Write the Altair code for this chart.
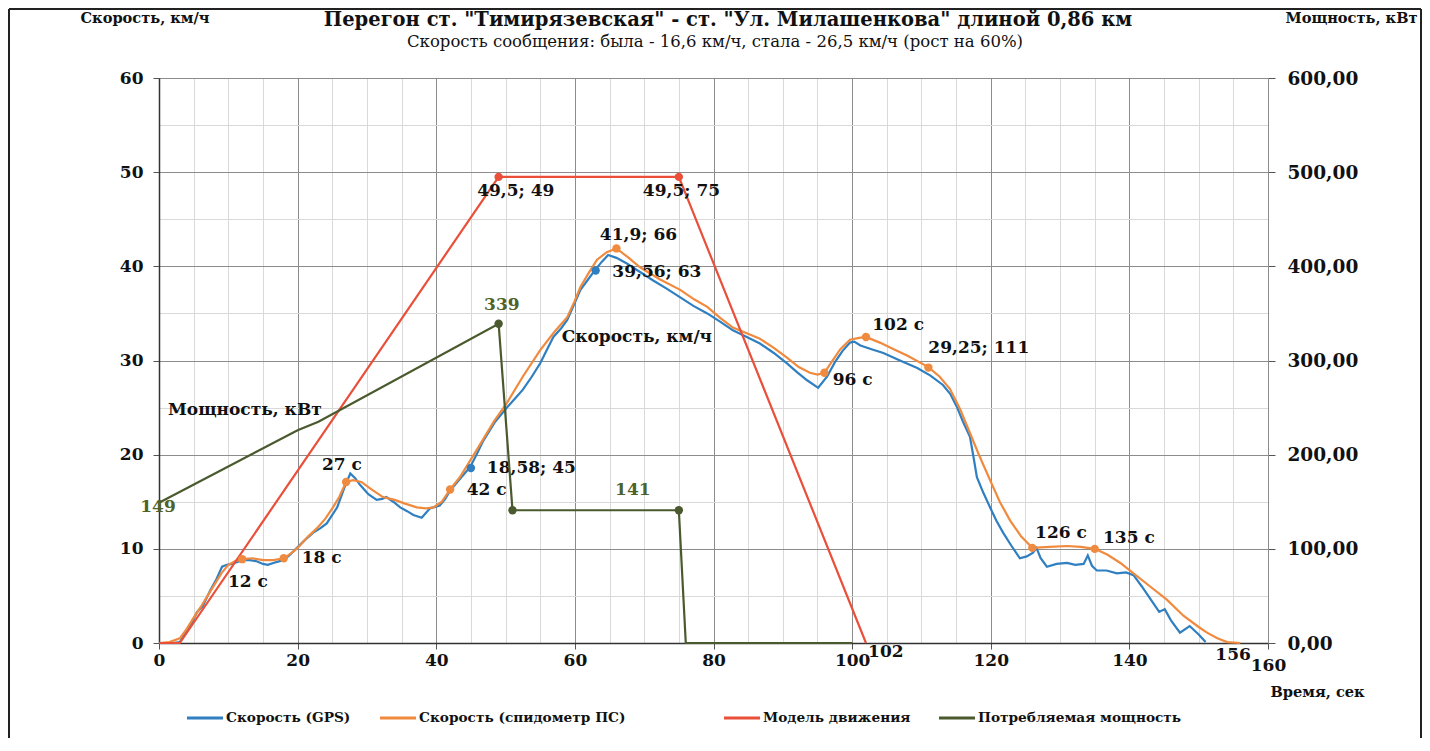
import altair as alt
import pandas as pd

FONT = "DejaVu Serif"
BLUE = "#2f7fc1"
ORANGE = "#f08a3e"
RED = "#ea4f3a"
GREEN = "#4b5a2e"
GREEN_TXT = "#4f6228"
INK = "#111111"

# ---- data ----
gps_t = [0, 1, 2, 3, 4, 4.9, 5.5, 6.3, 7.4, 8.3, 9.1, 9.8, 10.5, 11.3, 12, 13.1, 14, 15, 15.7, 16.5,
         17.9, 18.8, 19.9, 21, 22.2, 23.3, 24.2, 25, 25.7, 26.3, 26.8, 27.6, 28.3, 29, 30.2, 31.4, 32.2,
         32.8, 33.8, 34.8, 35.8, 36.7, 37.9, 38.5, 39.1, 40.5, 41.3, 42, 43.5, 44.9, 45.8, 46.8, 48.5,
         50.2, 51.4, 52.5, 53.8, 55, 56, 56.9, 58, 58.9, 59.8, 60.8, 61.9, 62.9, 63.9, 64.8, 66, 67.5,
         69.4, 71.3, 73.3, 75.2, 77.1, 79.1, 81, 82.8, 84.8, 86.7, 88.7, 90.6, 92, 93.5, 95.1, 96.4,
         97.5, 98.6, 99.7, 100.3, 101.2, 102.8, 104.5, 106.9, 109.4, 111.3, 113.1, 114.2, 115.1, 116,
         117, 117.5, 118, 118.9, 119.9, 120.8, 121.8, 123, 124.2, 125.2, 126.1, 126.6, 127.2, 128.1,
         129.5, 131, 132.2, 133.4, 134, 134.6, 135.3, 136.7, 138.2, 139.5, 140.6, 141.8, 143, 144.3,
         145.1, 146, 147.3, 148.7, 150, 151]
gps_v = [0, 0, 0, 0.1, 1.2, 2.4, 3.3, 3.9, 5.6, 6.8, 8.1, 8.3, 8.4, 8.6, 8.8, 8.8, 8.7, 8.4, 8.3, 8.5,
         8.8, 9.3, 10.1, 10.9, 11.7, 12.2, 12.7, 13.6, 14.4, 15.6, 16.6, 18.0, 17.5, 16.8, 15.8, 15.2, 15.3,
         15.5, 15.0, 14.4, 14.0, 13.6, 13.3, 13.8, 14.3, 14.6, 15.3, 16.2, 17.5, 18.7, 20.0, 21.5, 23.5,
         25.0, 26.0, 26.9, 28.3, 29.7, 31.2, 32.5, 33.4, 34.3, 35.8, 37.5, 38.6, 39.6, 40.5, 41.2, 40.9, 40.3,
         39.4, 38.5, 37.6, 36.7, 35.8, 35.0, 34.1, 33.2, 32.5, 31.8, 30.8, 29.7, 28.8, 27.9, 27.1, 28.3,
         29.8, 31.0, 31.9, 32.0, 31.6, 31.2, 30.8, 30.0, 29.2, 28.4, 27.4, 26.4, 25.1, 23.5,
         21.9, 19.8, 17.6, 16.0, 14.4, 13.0, 11.7, 10.3, 9.0, 9.2, 9.6, 10.1, 9.0, 8.1,
         8.4, 8.5, 8.3, 8.4, 9.3, 8.2, 7.7, 7.7, 7.4, 7.5, 7.2, 6.0, 4.7, 3.3,
         3.6, 2.4, 1.1, 1.8, 0.9, 0.1]

spd_t = [0, 1.5, 3, 4, 5, 6, 7, 8, 9, 10, 11, 12, 13.5, 15, 16.5, 18, 19, 20, 21.5, 22.8, 24, 25.1, 26,
         27, 28, 29.2, 30.5, 32.3, 34, 35.5, 37.2, 38.5, 39.6, 40.8, 42, 43.4, 45, 46.5, 48.3, 50.2, 52.5,
         55, 57, 58.9, 59.9, 60.8, 62, 63.2, 64.6, 66, 67.6, 69.4, 72.3, 75.2, 77.2, 79.1, 81, 82.8, 84.8,
         86.7, 88.6, 90.6, 92.3, 93.9, 95, 96, 97, 98.3, 99.7, 101, 102, 104, 106, 108, 111, 112.6, 114.1,
         115.6, 117, 118.4, 119.9, 121.3, 122.8, 124.4, 126, 128.5, 131, 133, 135, 136.8, 138.7, 140.6,
         143, 145.4, 147.8, 150, 151.2, 152.7, 154.1, 156]
spd_v = [0, 0.1, 0.5, 1.5, 2.7, 3.8, 5.0, 6.2, 7.4, 8.3, 8.7, 8.9, 9.0, 8.8, 8.8, 9.0, 9.5, 10.1, 11.3, 12.2,
         13.2, 14.4, 15.5, 17.1, 17.3, 17.1, 16.4, 15.5, 15.2, 14.8, 14.4, 14.3, 14.4, 15.0, 16.3, 17.6, 19.5,
         21.3, 23.5, 25.5, 28.3, 31.1, 33.0, 34.6, 36.2, 37.8, 39.3, 40.7, 41.5, 41.9, 41.0, 39.9, 38.6, 37.5,
         36.5, 35.7, 34.5, 33.5, 32.9, 32.3, 31.4, 30.3, 29.3, 28.7, 28.5, 28.7, 29.8, 31.2, 32.2, 32.4, 32.5,
         31.9, 31.2, 30.5, 29.3, 28.3, 27.0, 24.8, 22.3, 19.8, 17.3, 15.0, 13.0, 11.3, 10.1, 10.2, 10.3, 10.2,
         10.0, 9.4, 8.5, 7.4, 6.0, 4.6, 2.9, 1.7, 1.1, 0.5, 0.1, 0]

model_t = [0, 3, 49, 75, 102]
model_v = [0, 0, 49.5, 49.5, 0]

power_t = [0, 20, 23, 49, 51, 75, 76, 100]
power_v = [149, 226, 235, 339, 141, 141, 0, 0]

spd_mark_t = [12, 18, 27, 42, 66, 96, 102, 111, 126, 135]
spd_mark_v = [8.9, 9.0, 17.1, 16.3, 41.9, 28.7, 32.5, 29.25, 10.1, 10.0]
gps_mark_t = [45, 63]
gps_mark_v = [18.58, 39.56]
model_mark_t = [49, 75]
model_mark_v = [49.5, 49.5]
power_mark_t = [49, 51, 75]
power_mark_v = [339, 141, 141]

speed_label_text = ["12 с", "18 с", "27 с", "42 с", "18,58; 45", "39,56; 63", "41,9; 66", "49,5; 49",
                    "49,5; 75", "Мощность, кВт", "Скорость, км/ч", "96 с", "102 с", "29,25; 111",
                    "126 с", "135 с", "102", "156"]
speed_label_t = [9.96, 20.6, 23.5, 44.4, 47.3, 65.4, 63.6, 45.9, 69.8, 1.3, 58.1, 97.2, 102.9, 111.0,
                 126.4, 136.2, 102.3, 152.4]
speed_label_v = [6.48, 9.03, 18.9, 16.2, 18.6, 39.4, 43.3, 48.0, 48.0, 24.7, 32.5, 27.9, 33.8, 31.3,
                 11.7, 11.15, -0.96, -1.27]
power_label_text = ["339", "141", "149"]
power_label_t = [46.9, 65.8, -2.7]
power_label_p = [359, 162, 144]

x_ticks = list(range(0, 161, 5))
y_ticks = list(range(0, 61, 5))
p_ticks = list(range(0, 601, 100))

TITLE = "Перегон ст. \"Тимирязевская\" - ст. \"Ул. Милашенкова\" длиной 0,86 км"
SUBTITLE = "Скорость сообщения: была - 16,6 км/ч, стала - 26,5 км/ч (рост на 60%)"

W, H = 1109, 565
TICK_FS = 17
ANN_FS = 17
AXT_FS = 14.6

# ---- scales / axes ----
major_x = "datum.value % 20 === 0"
major_y = "datum.value % 10 === 0"

x_axis = alt.Axis(
    values=x_ticks,
    labelExpr=f"{major_x} ? datum.label : ''",
    grid=True,
    gridColor={"condition": {"test": major_x, "value": "#8c8c8c"}, "value": "#d9d9d9"},
    gridWidth=1,
    tickSize={"condition": {"test": major_x, "value": 6}, "value": 0},
    tickColor="#555555",
    domainColor="#333333",
    domainWidth=1.5,
    labelFont=FONT, labelFontSize=TICK_FS, labelFontWeight="bold", labelColor=INK,
    labelPadding={"condition": {"test": "datum.value === 160", "value": 8}, "value": 3},
    labelFlush=False, labelOverlap=False,
    title="Время, сек", titleFont=FONT, titleFontSize=AXT_FS, titleFontWeight="bold", titleColor=INK,
    titleX=1111, titleY=49, titleAlign="left", titleBaseline="middle",
)
x_enc = alt.X("t:Q", scale=alt.Scale(domain=[0, 160], nice=False, zero=False), axis=x_axis)

y_axis = alt.Axis(
    values=y_ticks,
    labelExpr=f"{major_y} ? datum.label : ''",
    grid=True,
    gridColor={"condition": {"test": major_y, "value": "#8c8c8c"}, "value": "#d9d9d9"},
    tickSize={"condition": {"test": major_y, "value": 6}, "value": 0},
    tickColor="#555555",
    domainColor="#333333",
    domainWidth=1.5,
    labelFont=FONT, labelFontSize=TICK_FS, labelFontWeight="bold", labelColor=INK,
    labelPadding=10, labelOverlap=False,
    title="Скорость, км/ч", titleFont=FONT, titleFontSize=AXT_FS, titleFontWeight="bold", titleColor=INK,
    titleAngle=0, titleX=-79, titleY=-60, titleAlign="left", titleBaseline="middle",
)
y_speed = lambda f: alt.Y(f"{f}:Q", scale=alt.Scale(domain=[0, 60], nice=False), axis=y_axis)

p_axis = alt.Axis(
    orient="right",
    values=p_ticks,
    labelExpr="replace(format(datum.value, '.2f'), '.', ',')",
    grid=False,
    tickSize=7, tickColor="#555555",
    domainColor="#8c8c8c",
    labelFont=FONT, labelFontSize=18.5, labelFontWeight="bold", labelColor=INK,
    labelPadding=12, labelOverlap=False,
    title="Мощность, кВт", titleFont=FONT, titleFontSize=AXT_FS, titleFontWeight="bold", titleColor=INK,
    titleAngle=0, titleX=17, titleY=-60, titleAlign="left", titleBaseline="middle",
)
y_power = lambda f: alt.Y(f"{f}:Q", scale=alt.Scale(domain=[0, 600], nice=False), axis=p_axis)


def legend(x):
    return alt.Legend(orient="none", legendX=x, legendY=620, title=None, symbolType="stroke",
                      symbolSize=1300, symbolStrokeWidth=3, labelFont=FONT, labelFontSize=13.7,
                      labelFontWeight="bold", labelColor=INK, padding=0, labelOffset=1,
                      labelLimit=500)


dummy = pd.DataFrame({"a": [0]})

# ---- frame and titles ----
frame_left = alt.Chart(dummy).mark_rule(color="#222222", strokeWidth=2).encode(
    x=alt.value(-150), y=alt.value(-69), y2=alt.value(670))
frame_top = alt.Chart(dummy).mark_rule(color="#222222", strokeWidth=2).encode(
    x=alt.value(-150), x2=alt.value(1262), y=alt.value(-69))
frame_right = alt.Chart(dummy).mark_rule(color="#222222", strokeWidth=2).encode(
    x=alt.value(1262), y=alt.value(-69), y2=alt.value(670))
title_mark = alt.Chart(dummy).mark_text(
    text=TITLE, font=FONT, fontSize=19.5, fontWeight="bold", color=INK, align="center", baseline="middle"
).encode(x=alt.value(569), y=alt.value(-58))
subtitle_mark = alt.Chart(dummy).mark_text(
    text=SUBTITLE, font=FONT, fontSize=16.5, color=INK, align="center", baseline="middle"
).encode(x=alt.value(556), y=alt.value(-36))

# ---- speed layers ----
gps_df = pd.DataFrame({"t": gps_t, "v": gps_v, "s": "Скорость (GPS)"})
spd_df = pd.DataFrame({"t": spd_t, "v": spd_v, "s": "Скорость (спидометр ПС)"})
model_df = pd.DataFrame({"t": model_t, "v": model_v, "s": "Модель движения"})
power_df = pd.DataFrame({"t": power_t, "p": power_v, "s": "Потребляемая мощность"})

gps_line = alt.Chart(gps_df).mark_line(strokeWidth=2.2).encode(
    x=x_enc, y=y_speed("v"),
    color=alt.Color("s:N", scale=alt.Scale(range=[BLUE]), legend=legend(26)))
spd_line = alt.Chart(spd_df).mark_line(strokeWidth=2.2).encode(
    x=x_enc, y=y_speed("v"),
    color=alt.Color("s:N", scale=alt.Scale(range=[ORANGE]), legend=legend(219)))
model_line = alt.Chart(model_df).mark_line(strokeWidth=2.2).encode(
    x=x_enc, y=y_speed("v"),
    color=alt.Color("s:N", scale=alt.Scale(range=[RED]), legend=legend(563)))

spd_pts = alt.Chart(pd.DataFrame({"t": spd_mark_t, "v": spd_mark_v})).mark_circle(
    size=70, opacity=1, color=ORANGE).encode(x=x_enc, y=y_speed("v"))
gps_pts = alt.Chart(pd.DataFrame({"t": gps_mark_t, "v": gps_mark_v})).mark_circle(
    size=70, opacity=1, color=BLUE).encode(x=x_enc, y=y_speed("v"))
model_pts = alt.Chart(pd.DataFrame({"t": model_mark_t, "v": model_mark_v})).mark_circle(
    size=70, opacity=1, color=RED).encode(x=x_enc, y=y_speed("v"))

speed_labels = alt.Chart(pd.DataFrame({"t": speed_label_t, "v": speed_label_v,
                                       "txt": speed_label_text})).mark_text(
    align="left", baseline="middle", font=FONT, fontSize=ANN_FS, fontWeight="bold", color=INK
).encode(x=x_enc, y=y_speed("v"), text="txt:N")

speed_group = alt.layer(
    frame_left, frame_top, frame_right, title_mark, subtitle_mark,
    gps_line, spd_line, model_line, spd_pts, gps_pts, model_pts, speed_labels
).resolve_scale(color="independent")

# ---- power layers ----
power_line = alt.Chart(power_df).mark_line(strokeWidth=2.2).encode(
    x=x_enc, y=y_power("p"),
    color=alt.Color("s:N", scale=alt.Scale(range=[GREEN]), legend=legend(778)))
power_pts = alt.Chart(pd.DataFrame({"t": power_mark_t, "p": power_mark_v})).mark_circle(
    size=70, opacity=1, color=GREEN).encode(x=x_enc, y=y_power("p"))
power_labels = alt.Chart(pd.DataFrame({"t": power_label_t, "p": power_label_p,
                                       "txt": power_label_text})).mark_text(
    align="left", baseline="middle", font=FONT, fontSize=ANN_FS, fontWeight="bold", color=GREEN_TXT
).encode(x=x_enc, y=y_power("p"), text="txt:N")

power_group = alt.layer(power_line, power_pts, power_labels).resolve_scale(color="independent")

chart = alt.layer(speed_group, power_group).resolve_scale(
    y="independent", color="independent"
).properties(
    width=W, height=H,
    padding={"left": 151, "top": 70, "right": 154, "bottom": 95},
    autosize=alt.AutoSizeParams(type="none"),
).configure_view(stroke=None).configure(background="white")

chart.save("out.html", embed_options={"renderer": "svg", "actions": False})
